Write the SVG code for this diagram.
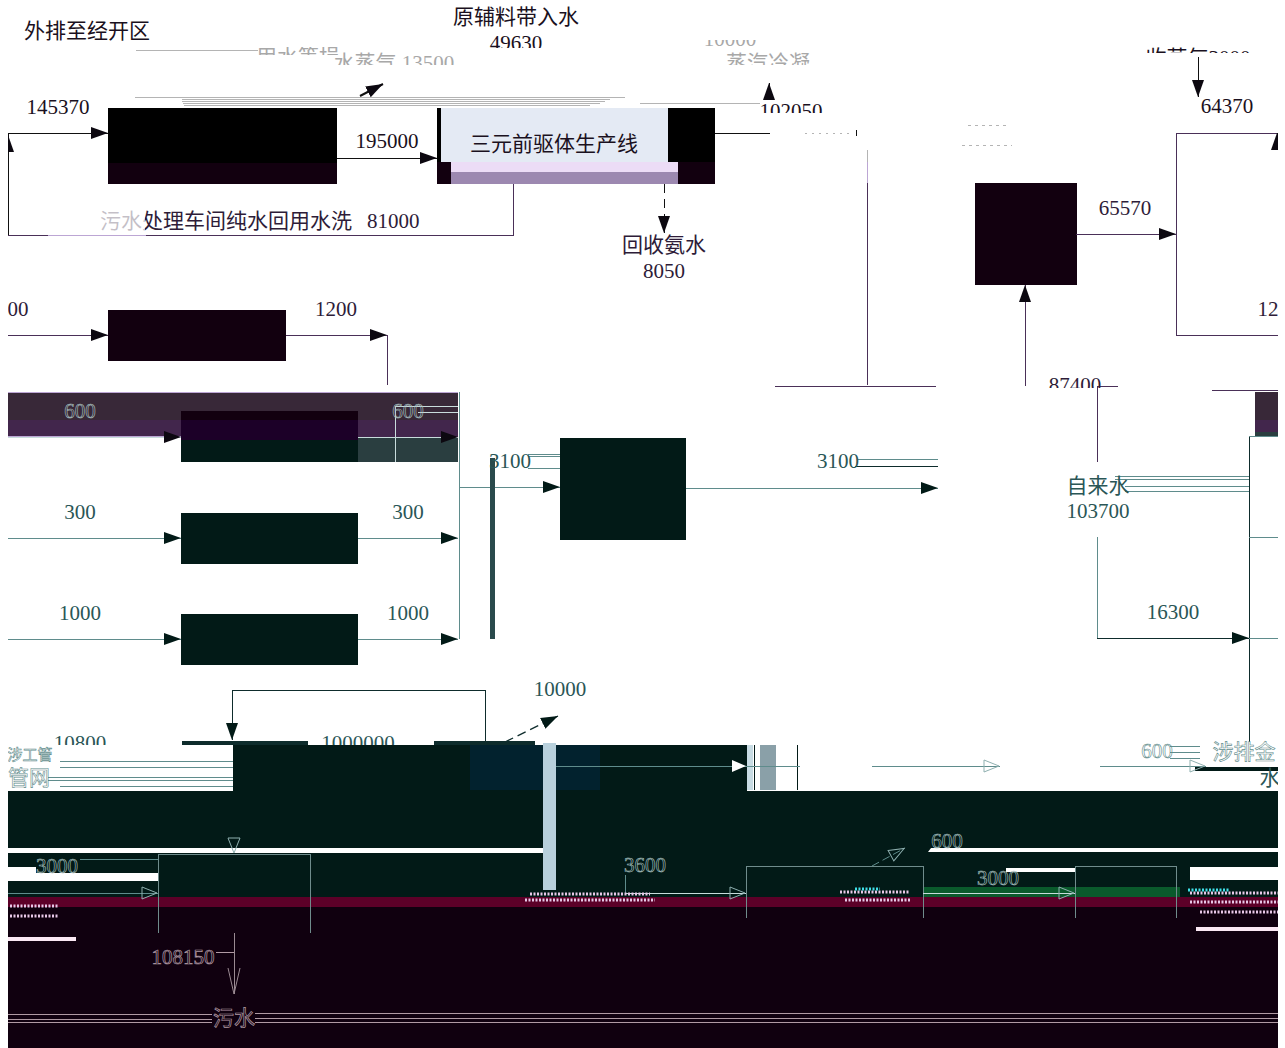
<svg xmlns="http://www.w3.org/2000/svg" width="1285" height="1048" viewBox="0 0 1285 1048">
<style>
text{font-family:"Liberation Serif","Noto Sans CJK SC",serif;font-size:21px;text-anchor:middle}
.k{fill:#1a1020}.p{fill:#2e1c38}.t{fill:#2a5656}.g{fill:#a8a8a8}
.ol{fill:none;stroke:#a8c0c0;stroke-width:.6}.ow{fill:none;stroke:#b09aa4;stroke-width:.7}
.c{fill:none;stroke-width:1;shape-rendering:crispEdges}
.lk{stroke:#111}.lp{stroke:#4a3058}.lt{stroke:#5f8c8c}.ld{stroke:#0e2c2c}.lg{stroke:#b4b4b4}.lw{stroke:#c8dcdc}.lm{stroke:#b09aa4}.ll{stroke:#bca6d4}
.noise{fill:none;stroke-width:3;stroke-dasharray:2 1.5}
</style>
<defs>
<marker id="ak" markerWidth="18" markerHeight="14" refX="17" refY="7" orient="auto" markerUnits="userSpaceOnUse"><path d="M0 1L17 7L0 13z" fill="#0c0810"/></marker>
<marker id="at" markerWidth="18" markerHeight="14" refX="17" refY="7" orient="auto" markerUnits="userSpaceOnUse"><path d="M0 1L17 7L0 13z" fill="#021a17"/></marker>
<marker id="ao" markerWidth="18" markerHeight="14" refX="17" refY="7" orient="auto" markerUnits="userSpaceOnUse"><path d="M1 1L16 7L1 13z" fill="none" stroke="#8fb0b0"/></marker>
<clipPath id="c1"><rect x="400" y="0" width="200" height="48"/></clipPath>
<clipPath id="c2"><rect x="700" y="90" width="140" height="23"/></clipPath>
<clipPath id="c3"><rect x="1000" y="370" width="130" height="18"/></clipPath>
<clipPath id="c4"><rect x="0" y="720" width="500" height="25"/></clipPath>
<clipPath id="c5"><rect x="0" y="300" width="1278" height="40"/></clipPath>
<clipPath id="c6"><rect x="200" y="47" width="1100" height="8"/></clipPath>
<clipPath id="c7"><rect x="330" y="52" width="500" height="13"/></clipPath>
<clipPath id="c8"><rect x="700" y="40" width="100" height="10"/></clipPath>
<clipPath id="c9"><rect x="1140" y="46" width="120" height="7"/></clipPath>
</defs>
<rect width="1285" height="1048" fill="#fff"/>

<g id="bands">
<rect x="8" y="392" width="450" height="28" fill="#382838"/>
<rect x="8" y="420" width="450" height="17" fill="#42264c"/>
<rect x="358" y="437" width="100" height="25" fill="#2a3e40"/>
<rect x="8" y="392" width="450" height="1" fill="#bca6d4"/>
<rect x="8" y="436" width="173" height="1" fill="#bca6d4"/>
<rect x="1255" y="392" width="23" height="28" fill="#382838"/>
<rect x="1255" y="420" width="23" height="12" fill="#42264c"/>
<rect x="1255" y="432" width="23" height="4" fill="#2a3e40"/>
<rect x="233" y="745" width="514" height="46" fill="#021a17"/>
<rect x="8" y="791" width="1270" height="106" fill="#021a17"/>
<rect x="470" y="745" width="130" height="45" fill="#02222e"/>
<rect x="8" y="848" width="535" height="5" fill="#fff"/>
<path d="M931 848H1278V852H928z" fill="#fff"/>
<rect x="8" y="867" width="28" height="6" fill="#fff"/>
<rect x="8" y="873" width="150" height="8" fill="#fff"/>
<rect x="1006" y="868" width="69" height="4" fill="#fff"/>
<rect x="1190" y="867" width="88" height="13" fill="#fff"/>
<rect x="923" y="887" width="257" height="10" fill="#0a5a2c"/>
<rect x="543" y="743" width="13" height="147" fill="#b8d0dc"/>
<rect x="747" y="745" width="6" height="45" fill="#c8dce4"/>
<rect x="754" y="745" width="1" height="45" fill="#021a17"/>
<rect x="760" y="745" width="16" height="45" fill="#8aa0a8"/>
<rect x="797" y="745" width="1" height="45" fill="#021a17"/>
<rect x="8" y="907" width="1270" height="141" fill="#10000f"/>
<rect x="8" y="897" width="1270" height="10" fill="#5c0028"/>
<rect x="8" y="937" width="68" height="4" fill="#fbe8f4"/>
<rect x="1196" y="927" width="82" height="4" fill="#fbe8f4"/>
<rect x="1195" y="767" width="83" height="4" fill="#021a17"/>
<rect x="182" y="741" width="126" height="4" fill="#0e2c2c"/>
<rect x="434" y="741" width="101" height="4" fill="#0e2c2c"/>
</g>

<g id="node-filter"><rect x="108" y="108" width="229" height="55" fill="#000"/><rect x="108" y="163" width="229" height="21" fill="#12000f"/></g>
<g id="node-line">
<rect x="437" y="108" width="278" height="76" fill="#000"/>
<rect x="441" y="108" width="227" height="54" fill="#e4eaf4"/>
<rect x="437" y="162" width="14" height="22" fill="#12000f"/>
<rect x="678" y="162" width="37" height="22" fill="#12000f"/>
<rect x="451" y="162" width="227" height="10" fill="#ecdcf6"/>
<rect x="451" y="172" width="227" height="12" fill="#9c88b0"/>
</g>
<g id="node-a"><rect x="108" y="310" width="178" height="51" fill="#12000f"/></g>
<g id="node-b"><rect x="975" y="183" width="102" height="102" fill="#12000f"/></g>
<g id="node-c"><rect x="1176" y="133" width="103" height="202" fill="none" stroke="#4a3058" shape-rendering="crispEdges"/></g>
<g id="node-d"><rect x="181" y="411" width="177" height="9" fill="#12000f"/><rect x="181" y="420" width="177" height="20" fill="#1c0028"/><rect x="181" y="440" width="177" height="22" fill="#021a17"/></g>
<g id="node-e"><rect x="181" y="513" width="177" height="51" fill="#021a17"/></g>
<g id="node-f"><rect x="181" y="614" width="177" height="51" fill="#021a17"/></g>
<g id="node-g"><rect x="560" y="438" width="126" height="102" fill="#021a17"/></g>
<g id="node-h"><path d="M158 933V854H310V933" fill="none" stroke="#6f8c8c" shape-rendering="crispEdges"/></g>
<g id="node-i"><path d="M746 918V866H923V918" fill="none" stroke="#6f8c8c" shape-rendering="crispEdges"/></g>
<g id="node-j"><path d="M1075 918V866H1176V918" fill="none" stroke="#6f8c8c" shape-rendering="crispEdges"/></g>

<g id="connectors">
<path class="c lk" d="M8 235V133H108" marker-end="url(#ak)"/>
<path class="c lk" d="M8 150V135" marker-end="url(#ak)"/>
<path class="c lk" stroke-width="1.3" d="M337 158H437" marker-end="url(#ak)"/>
<path class="c lp" d="M513 184V235H8"/>
<path class="c ll" d="M48 235H146"/>
<path class="c lk" stroke-dasharray="9 6" d="M664 184V233" marker-end="url(#ak)"/>
<path fill="none" stroke="#111" stroke-width="2" d="M360 96L383 84" marker-end="url(#ak)"/>
<path class="c lg" d="M135 97H625M182 99H610M182 101H605M183 103H600M184 105H590"/>
<path class="c lg" d="M640 103H760"/>
<path class="c lk" d="M769 100V83" marker-end="url(#ak)"/>
<path class="c lk" d="M715 133H770"/>
<path class="c lg" stroke-dasharray="2 5" d="M805 133H850"/>
<path class="c lk" stroke-width="2" d="M856 130V136"/>
<path class="c lg" stroke-dasharray="3 4" d="M968 125H1008M962 145H1012"/>
<path class="c lg" d="M867 150V162"/>
<path class="c ll" d="M867 162V183"/>
<path class="c lp" d="M867 183V385"/>
<path class="c lp" d="M775 386H936M1097 386H1118M1212 390H1278"/>
<path class="c lp" d="M1025 386V285" marker-end="url(#ak)"/>
<path class="c lp" d="M1076 234H1176" marker-end="url(#ak)"/>
<path class="c lk" d="M1198 57V97" marker-end="url(#ak)"/>
<path class="c lk" d="M1277 150V133" marker-end="url(#ak)"/>
<path class="c lp" d="M8 335H108" marker-end="url(#ak)"/>
<path class="c lp" d="M286 335H387" marker-end="url(#ak)"/>
<path class="c lp" d="M387 335V385"/>
<path class="c lw" d="M8 437H181" marker-end="url(#ak)"/>
<path class="c lw" d="M358 437H458" marker-end="url(#ak)"/>
<path class="c lw" d="M395 462V406H458M418 412H458"/>
<path class="c lt" d="M8 538H181" marker-end="url(#at)"/>
<path class="c lt" d="M358 538H458" marker-end="url(#at)"/>
<path class="c lt" d="M8 639H181" marker-end="url(#at)"/>
<path class="c lt" d="M358 639H458" marker-end="url(#at)"/>
<path class="c lt" d="M459 392V639"/>
<path class="c lt" d="M459 487H560" marker-end="url(#at)"/>
<path fill="#2a4a4c" d="M490 458h5V639h-5z"/>
<path class="c lt" d="M528 454H560M528 456H560M528 468H560"/>
<path class="c lt" d="M686 488H938" marker-end="url(#at)"/>
<path class="c lt" d="M858 459H938"/>
<path class="c ld" stroke-width="1.4" d="M855 466H938"/>
<path class="c lp" stroke-width="1.2" d="M1097 386V462"/>
<path class="c lt" d="M1115 476H1249M1115 479H1249M1125 486H1249M1125 491H1249"/>
<path class="c lt" d="M1097 537V638"/>
<path class="c ld" stroke-width="1.3" d="M1097 638H1249" marker-end="url(#at)"/>
<path class="c ld" stroke-width="1.3" d="M1249 436V742"/>
<path class="c lt" d="M1249 537H1278M1249 638H1278M1249 436H1278"/>
<path class="c ld" stroke-width="1.5" d="M485 741V690H232V740" marker-end="url(#at)"/>
<path fill="none" stroke="#0e2c2c" stroke-width="1.3" stroke-dasharray="9 5" d="M505 742L558 716" marker-end="url(#at)"/>
<path class="c lt" d="M556 766H747"/>
<path d="M732 760L746 766L732 772z" fill="#fff"/>
<path class="c lt" d="M747 766H800"/>
<path class="c lt" d="M872 766H1000" marker-end="url(#ao)"/>
<path class="c lt" d="M1100 766H1206" marker-end="url(#ao)"/>
<path class="c lt" d="M1170 746H1200M1170 752H1200M1170 758H1200"/>
<path class="c lt" d="M60 761H233M60 767H233M48 777H233M48 780H233M60 786H233"/>
<path d="M228 838L240 838L234 853z" fill="none" stroke="#8fb0b0"/>
<path class="c lt" d="M8 893H158" marker-end="url(#ao)"/>
<path class="c lt" d="M80 859H158"/>
<path class="c lw" d="M625 893H746" marker-end="url(#ao)"/>
<path class="c lt" d="M625 875V893"/>
<path class="c lw" d="M923 893H1075" marker-end="url(#ao)"/>
<path fill="none" stroke="#5f8c8c" stroke-dasharray="8 4" d="M872 866L905 848" marker-end="url(#ao)"/>
<path class="c" stroke="#9a8a92" d="M234 933V994"/>
<path d="M228 968L234 994L240 968" fill="none" stroke="#9a8a92"/>
<path class="c lm" d="M216 952H234"/>
<path class="c lm" d="M8 1014H212M8 1019H212M8 1022H212M255 1013H1278M255 1018H1278M255 1022H1278"/>
<path class="noise" stroke="#e8c8e8" d="M530 894H650M525 900H655M840 892H910M845 900H910M1190 893H1278M1190 902H1278M1200 912H1278M10 906H58M10 916H58"/>
<path class="noise" stroke="#40e0e8" d="M855 889H880M1188 890H1230"/>
<path class="c lg" d="M136 50H258"/>
</g>

<g id="labels">
<text class="k" x="87" y="38">外排至经开区</text>
<text class="k" x="516" y="24">原辅料带入水</text>
<text class="k" x="516" y="50" clip-path="url(#c1)">49630</text>
<text class="g" x="298" y="64" clip-path="url(#c6)">用水等损</text>
<text class="g" x="394" y="70" clip-path="url(#c7)">水蒸气 13500</text>
<text class="g" x="730" y="46" clip-path="url(#c8)">10000</text>
<text class="g" x="768" y="70" clip-path="url(#c7)">蒸汽冷凝</text>
<text class="k" x="1198" y="65" clip-path="url(#c9)">收蒸气3000</text>
<text class="k" x="58" y="114">145370</text>
<text class="k" x="791" y="118" clip-path="url(#c2)">102050</text>
<text class="k" x="1227" y="113">64370</text>
<text class="k" x="387" y="148">195000</text>
<text class="k" x="554" y="151">三元前驱体生产线</text>
<text class="p" x="100" y="228" style="text-anchor:start">污水处理车间纯水回用水洗<tspan x="367">81000</tspan></text>
<rect x="100" y="210" width="45" height="25" fill="#fff" fill-opacity=".72"/>
<text class="p" x="664" y="252">回收氨水</text>
<text class="p" x="664" y="278">8050</text>
<text class="p" x="1125" y="215">65570</text>
<text class="p" x="18" y="316">00</text>
<text class="p" x="336" y="316">1200</text>
<text class="p" x="1268" y="316" clip-path="url(#c5)">12</text>
<text class="p" x="1075" y="392" clip-path="url(#c3)">87400</text>
<text class="ol" x="80" y="418">600</text>
<text class="ol" x="408" y="418">600</text>
<text class="t" x="80" y="519">300</text>
<text class="t" x="408" y="519">300</text>
<text class="t" x="80" y="620">1000</text>
<text class="t" x="408" y="620">1000</text>
<text class="t" x="510" y="468">3100</text>
<text class="t" x="838" y="468">3100</text>
<text class="t" x="1098" y="493">自来水</text>
<text class="t" x="1098" y="518">103700</text>
<text class="t" x="1173" y="619">16300</text>
<text class="t" x="560" y="696">10000</text>
<text class="t" x="80" y="750" clip-path="url(#c4)">10800</text>
<text class="t" x="358" y="750" clip-path="url(#c4)">1000000</text>
<text class="ol" x="30" y="760" style="stroke:#5f8c8c;font-size:15px">涉工管</text>
<text class="ol" x="29" y="785" style="stroke:#5f8c8c">管网</text>
<text class="ol" x="1157" y="758" style="stroke:#5f8c8c">600</text>
<text class="ol" x="1244" y="759" style="stroke:#5f8c8c">涉排金</text>
<text class="t" x="1270" y="785">水</text>
<text class="ol" x="57" y="873">3000</text>
<text class="ol" x="645" y="872">3600</text>
<text class="ol" x="947" y="848">600</text>
<text class="ol" x="998" y="885">3000</text>
<text class="ow" x="183" y="964">108150</text>
<text class="ow" x="234" y="1025">污水</text>
</g>
<g id="edge-mask"><rect x="0" y="0" width="8" height="1048" fill="#fff"/><rect x="1278" y="0" width="7" height="1048" fill="#fff"/></g>
</svg>
